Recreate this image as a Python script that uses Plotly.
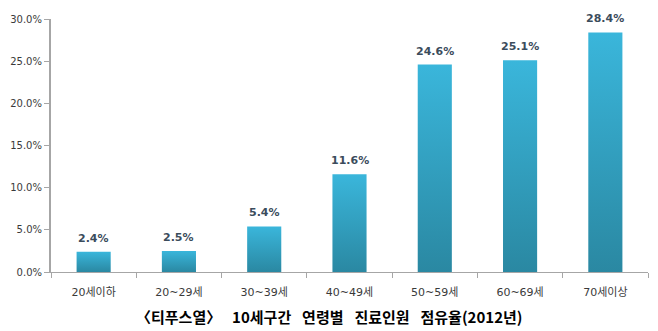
import plotly.graph_objects as go

# Share of typhoid-fever patients by 10-year age band, 2012 (%)
age_groups = ["20세이하", "20~29세", "30~39세", "40~49세", "50~59세", "60~69세", "70세이상"]
shares = [2.4, 2.5, 5.4, 11.6, 24.6, 25.1, 28.4]
y_ticks = [0, 5, 10, 15, 20, 25, 30]

BAR_HALF = 0.2
xs = list(range(len(age_groups)))

fig = go.Figure()

# each column drawn as a filled rectangle with a vertical gradient
for x, v in zip(xs, shares):
    fig.add_trace(go.Scatter(
        x=[x - BAR_HALF, x + BAR_HALF, x + BAR_HALF, x - BAR_HALF, x - BAR_HALF],
        y=[0, 0, v, v, 0],
        mode="lines", line=dict(width=0), fill="toself",
        fillgradient=dict(type="vertical",
                          colorscale=[[0, "#2A88A2"], [1, "#3AB6DB"]]),
        hoverinfo="skip",
    ))

# value labels above each column
value_labels = [dict(
    x=x, y=v, xref="x", yref="y", text=f"<b>{v:.1f}%</b>",
    showarrow=False, xanchor="center", yanchor="bottom", yshift=5,
    font=dict(family="DejaVu Sans", size=11, color="#3B4C5C"),
) for x, v in zip(xs, shares)]

title_note = dict(
    text="<b>〈티푸스열〉\u2002 10세구간\u2002 연령별\u2002 진료인원\u2002 점유율(2012년)</b>",
    xref="paper", yref="paper", x=0.465, y=-0.175,
    xanchor="center", yanchor="middle", showarrow=False,
    font=dict(family="Noto Sans CJK KR", size=15, color="#000000"),
)

fig.update_layout(
    width=658, height=331,
    margin=dict(l=46, r=10, t=19, b=59),
    paper_bgcolor="white", plot_bgcolor="white",
    showlegend=False,
    font=dict(family="DejaVu Sans, Noto Sans CJK KR", size=11, color="#333333"),
    xaxis=dict(
        range=[-0.5, 6.5], tickvals=xs, ticktext=age_groups,
        ticks="", showgrid=False, zeroline=False,
        showline=True, linecolor="#A6A6A6", linewidth=1,
        ticklabelstandoff=10,
        tickfont=dict(family="DejaVu Sans, Noto Sans CJK KR", size=11, color="#3A3A3A"),
        minor=dict(ticks="outside", tick0=-0.5, dtick=1, ticklen=5,
                   tickcolor="#A6A6A6", showgrid=False),
    ),
    yaxis=dict(
        range=[0, 30], tickvals=y_ticks,
        ticktext=[f"{t:.1f}%" for t in y_ticks],
        ticks="outside", ticklen=5, tickcolor="#A6A6A6",
        showgrid=False, zeroline=False,
        showline=True, linecolor="#A6A6A6", linewidth=2,
        tickfont=dict(family="DejaVu Sans", size=10, color="#3A3A3A"),
    ),
    annotations=value_labels + [title_note],
)

fig.write_html("out.html")
